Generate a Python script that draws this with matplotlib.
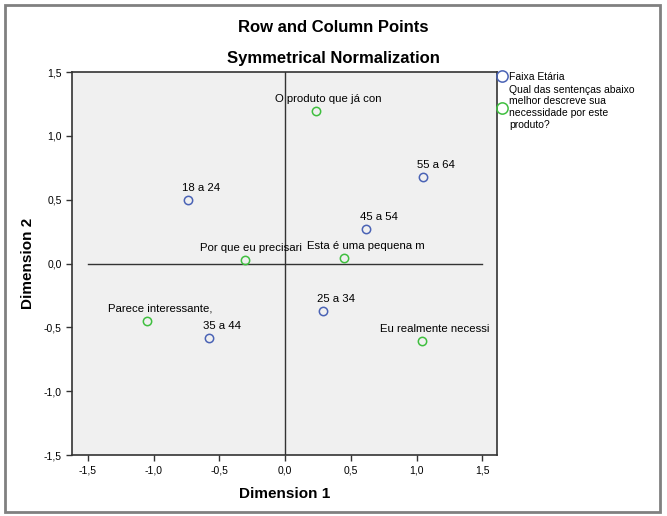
import numpy as np
import matplotlib
matplotlib.use('Agg')
import matplotlib.pyplot as plt
from matplotlib.ticker import FuncFormatter, MultipleLocator
from matplotlib.patches import Rectangle

plt.rcParams['font.family'] = ['Liberation Sans', 'DejaVu Sans']

# row points (Faixa Etaria)
row_labels = ['18 a 24', '25 a 34', '35 a 44', '45 a 54', '55 a 64']
row_x = [-0.737, 0.289, -0.577, 0.615, 1.048]
row_y = [0.50, -0.368, -0.58, 0.274, 0.68]

# column points (sentencas)
col_labels = ['O produto que já con', 'Por que eu precisari', 'Esta é uma pequena m',
              'Parece interessante,', 'Eu realmente necessi']
col_x = [0.235, -0.304, 0.448, -1.048, 1.04]
col_y = [1.198, 0.031, 0.047, -0.446, -0.603]

# extra horizontal nudge (points) so the two middle labels don't collide
col_nudge = [0, -5, 7, 0, 0]

legend_labels = ['Faixa Etária',
                 'Qual das sentenças abaixo\nmelhor descreve sua\nnecessidade por este\nproduto?']

blue = '#4a63b5'
green = '#3fbf3f'


def comma_fmt(v, pos):
    return '{:.1f}'.format(v).replace('.', ',')


fig = plt.figure(figsize=(6.67, 5.16), dpi=100)
fig.patches.append(Rectangle((0.008, 0.008), 0.982, 0.982, transform=fig.transFigure,
                             fill=False, edgecolor='#808080', linewidth=2))

ax = fig.add_axes([0.108, 0.118, 0.637, 0.7423])
ax.set_facecolor('#f0f0f0')
ax.set_xlim(-1.62, 1.61)
ax.set_ylim(-1.5, 1.5)

ax.plot([-1.5, 1.5], [0, 0], color='#333333', lw=1, zorder=1)
ax.axvline(0, color='#333333', lw=1, zorder=1)

h1, = ax.plot(row_x, row_y, 'o', mfc='none', mec=blue, ms=6, mew=1.1, zorder=3)
h2, = ax.plot(col_x, col_y, 'o', mfc='none', mec=green, ms=6, mew=1.1, zorder=3)

nudges = [0] * len(row_labels) + col_nudge
for lab, x, y, dx in zip(row_labels + col_labels, row_x + col_x, row_y + col_y, nudges):
    ax.annotate(lab, (x, y), xytext=(9 + dx, 8.5), textcoords='offset points',
                ha='center', va='center', fontsize=8.2)

ax.xaxis.set_major_locator(MultipleLocator(0.5))
ax.yaxis.set_major_locator(MultipleLocator(0.5))
ax.xaxis.set_major_formatter(FuncFormatter(comma_fmt))
ax.yaxis.set_major_formatter(FuncFormatter(comma_fmt))
ax.tick_params(direction='out', length=4, width=1, labelsize=7.5, color='#333333')
for s in ax.spines.values():
    s.set_color('#333333')
    s.set_linewidth(1.2)

ax.set_xlabel('Dimension 1', fontsize=11, fontweight='bold', labelpad=8)
ax.set_ylabel('Dimension 2', fontsize=11, fontweight='bold', labelpad=6)

fig.text(0.5, 0.947, 'Row and Column Points', ha='center', va='center',
         fontsize=12, fontweight='bold')
fig.text(0.5, 0.886, 'Symmetrical Normalization', ha='center', va='center',
         fontsize=12, fontweight='bold')

leg = ax.legend([h1, h2], legend_labels, loc='upper left', bbox_to_anchor=(0.995, 1.012),
                frameon=False, fontsize=7.5, handlelength=0.6, handletextpad=0.4,
                labelspacing=0.3, markerscale=1.35, borderaxespad=0)

fig.savefig('out.png', dpi=100)
